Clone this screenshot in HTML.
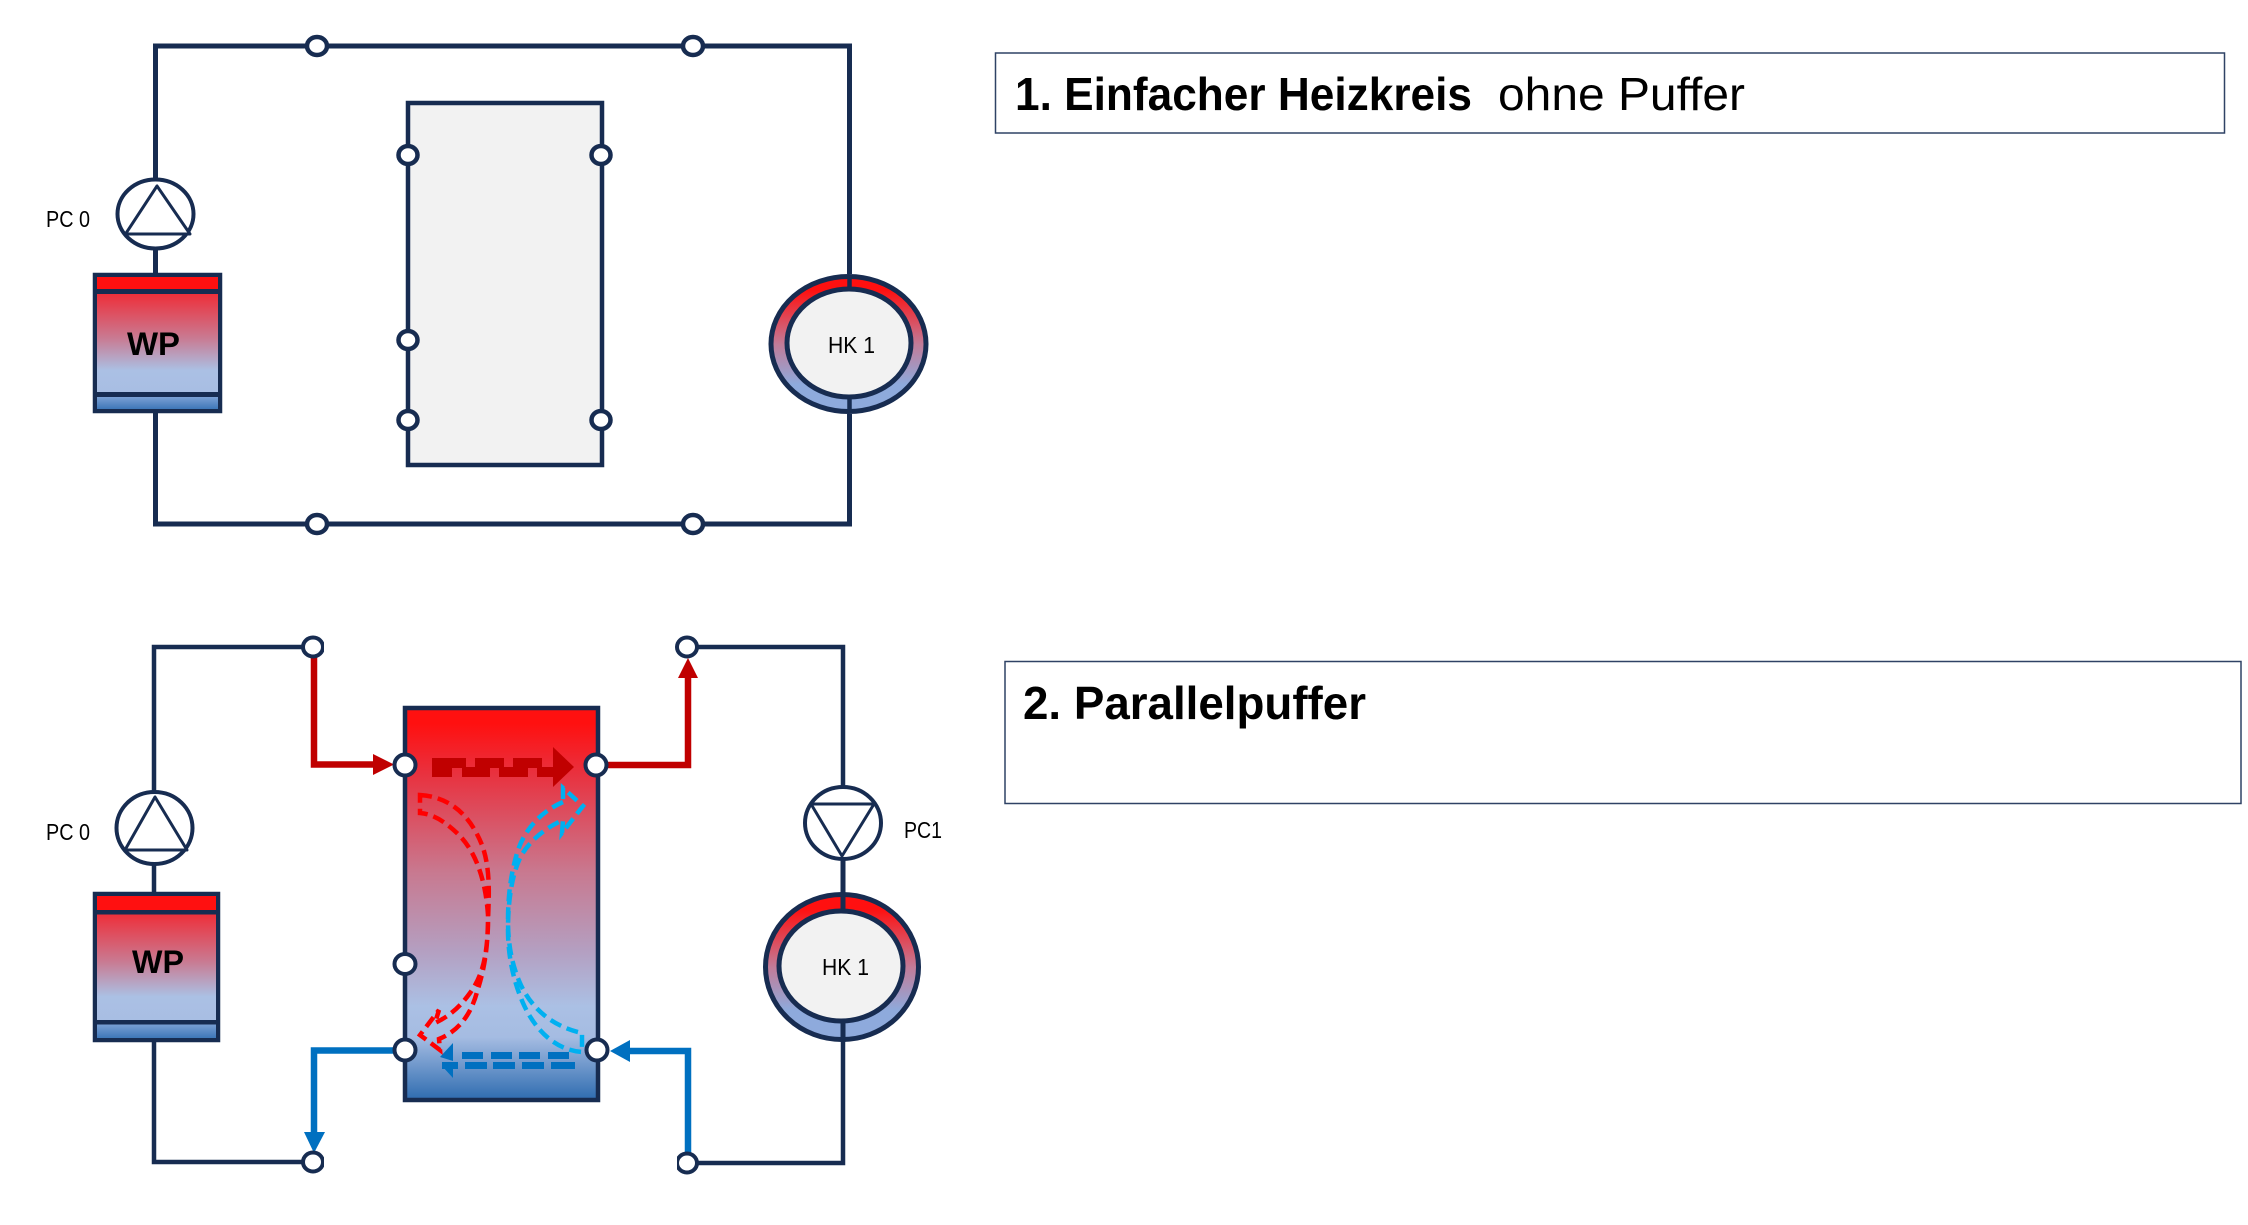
<!DOCTYPE html>
<html>
<head>
<meta charset="utf-8">
<style>
html,body{margin:0;padding:0;background:#fff;}
svg{display:block;}
text{font-family:"Liberation Sans",sans-serif;fill:#000;}
</style>
</head>
<body>
<svg width="2248" height="1225" viewBox="0 0 2248 1225" xmlns="http://www.w3.org/2000/svg">
<defs>
  <linearGradient id="mid" x1="0" y1="0" x2="0" y2="1">
    <stop offset="0" stop-color="#ee2f3a"/>
    <stop offset="0.45" stop-color="#c97a92"/>
    <stop offset="0.78" stop-color="#abc0e4"/>
    <stop offset="1" stop-color="#a8bee3"/>
  </linearGradient>
  <linearGradient id="low" x1="0" y1="0" x2="0" y2="1">
    <stop offset="0" stop-color="#7ba0d4"/>
    <stop offset="1" stop-color="#3e77b8"/>
  </linearGradient>
  <linearGradient id="ring" x1="0" y1="0" x2="0" y2="1">
    <stop offset="0.1" stop-color="#ff1010"/>
    <stop offset="0.5" stop-color="#c27b98"/>
    <stop offset="0.8" stop-color="#8eaadc"/>
    <stop offset="1" stop-color="#8eaadc"/>
  </linearGradient>
  <linearGradient id="tank" x1="0" y1="0" x2="0" y2="1">
    <stop offset="0.04" stop-color="#ff1010"/>
    <stop offset="0.16" stop-color="#ea2f3c"/>
    <stop offset="0.42" stop-color="#c87990"/>
    <stop offset="0.62" stop-color="#b49fc1"/>
    <stop offset="0.76" stop-color="#abc0e4"/>
    <stop offset="0.84" stop-color="#a5bce2"/>
    <stop offset="1" stop-color="#2e6cb0"/>
  </linearGradient>
</defs>

<!-- TOP DIAGRAM -->
<g fill="none" stroke="#172c51" stroke-width="5">
  <path d="M155.5 273V46H849.5V274"/>
  <path d="M155.5 413V524H849.5V414"/>
</g>
<rect x="408" y="103" width="194" height="362" fill="#f2f2f2" stroke="#172c51" stroke-width="4.5"/>
<g fill="#fff" stroke="#172c51" stroke-width="4.5">
  <ellipse cx="317" cy="46" rx="10" ry="9"/>
  <ellipse cx="693" cy="46" rx="10" ry="9"/>
  <ellipse cx="317" cy="524" rx="10" ry="9"/>
  <ellipse cx="693" cy="524" rx="10" ry="9"/>
  <ellipse cx="408" cy="155" rx="9.5" ry="9"/>
  <ellipse cx="601" cy="155" rx="9.5" ry="9"/>
  <ellipse cx="408" cy="340" rx="9.5" ry="9"/>
  <ellipse cx="408" cy="420" rx="9.5" ry="9"/>
  <ellipse cx="601" cy="420" rx="9.5" ry="9"/>
</g>
<!-- pump top -->
<ellipse cx="155.5" cy="214" rx="38" ry="34.5" fill="#fff" stroke="#172c51" stroke-width="4"/>
<path d="M157 186L125.5 234H190Z" fill="#fff" stroke="#172c51" stroke-width="3" stroke-linejoin="round"/>
<text x="46" y="227" font-size="23" textLength="44" lengthAdjust="spacingAndGlyphs">PC 0</text>
<!-- WP top -->
<rect x="95" y="275" width="125" height="136" fill="#fff" stroke="#172c51" stroke-width="4.5"/>
<rect x="97" y="277" width="121" height="13" fill="#ff1010"/>
<rect x="97" y="294" width="121" height="98" fill="url(#mid)"/>
<rect x="97" y="397" width="121" height="12" fill="url(#low)"/>
<rect x="97" y="289" width="121" height="5" fill="#172c51"/>
<rect x="97" y="392" width="121" height="5" fill="#172c51"/>
<text x="127" y="355" font-size="32" font-weight="700" textLength="53" lengthAdjust="spacingAndGlyphs">WP</text>
<!-- HK top -->
<ellipse cx="848.5" cy="344" rx="77.5" ry="67.5" fill="url(#ring)" stroke="#172c51" stroke-width="5"/>
<path d="M849.5 276V294M849.5 394V412" stroke="#172c51" stroke-width="4.5" fill="none"/>
<ellipse cx="849" cy="343" rx="62" ry="54" fill="#f2f2f2" stroke="#172c51" stroke-width="5"/>
<text x="828" y="353" font-size="23" textLength="47" lengthAdjust="spacingAndGlyphs">HK 1</text>

<!-- TEXT BOXES -->
<rect x="995.5" y="53" width="1229" height="80" fill="#fff" stroke="#2f4265" stroke-width="1.5"/>
<text x="1015" y="110" font-size="46" font-weight="700" textLength="457" lengthAdjust="spacingAndGlyphs">1. Einfacher Heizkreis</text>
<text x="1498" y="110" font-size="46" textLength="247" lengthAdjust="spacingAndGlyphs">ohne Puffer</text>
<rect x="1005" y="661.5" width="1236" height="142" fill="#fff" stroke="#2f4265" stroke-width="1.5"/>
<text x="1023" y="719" font-size="46" font-weight="700" textLength="343" lengthAdjust="spacingAndGlyphs">2. Parallelpuffer</text>

<!-- BOTTOM DIAGRAM pipes -->
<g fill="none" stroke="#172c51" stroke-width="4.5">
  <path d="M154 892V647H313"/>
  <path d="M154 1042V1162H313"/>
  <path d="M687 647H843V790"/>
  <path d="M687 1163H843V1040"/>
  <path d="M843 858V895" stroke-width="5"/>
</g>
<!-- tank -->
<rect x="405" y="708" width="193" height="392" fill="url(#tank)" stroke="#172c51" stroke-width="4.5"/>
<!-- colored pipes -->
<g fill="none" stroke-width="6.5">
  <path d="M314 652V764.5H375" stroke="#c00000"/>
  <path d="M596 765H688V676" stroke="#c00000"/>
  <path d="M402 1050.5H314V1134" stroke="#0070c0"/>
  <path d="M628 1051H688V1158" stroke="#0070c0"/>
</g>
<path d="M373 754L394 764.5L373 775Z" fill="#c00000"/>
<path d="M688 658L698 678H678Z" fill="#c00000"/>
<path d="M304 1132H325L314 1153Z" fill="#0070c0"/>
<path d="M630 1040V1062L610 1051Z" fill="#0070c0"/>
<!-- dark red dashed -->
<g fill="#c00000">
  <rect x="432" y="758" width="34" height="10"/>
  <rect x="475" y="758" width="29" height="10"/>
  <rect x="513" y="758" width="29" height="10"/>
  <rect x="432" y="767" width="20" height="10"/>
  <rect x="462" y="767" width="28" height="10"/>
  <rect x="499" y="767" width="29" height="10"/>
  <rect x="537" y="767" width="20" height="10"/>
  <path d="M553 747L574 767L553 787Z"/>
</g>
<!-- blue dashed -->
<g fill="#0070c0">
  <rect x="462" y="1052" width="21" height="7"/>
  <rect x="491" y="1052" width="21" height="7"/>
  <rect x="519" y="1052" width="21" height="7"/>
  <rect x="548" y="1052" width="21" height="7"/>
  <rect x="465" y="1062" width="22" height="7"/>
  <rect x="493" y="1062" width="22" height="7"/>
  <rect x="522" y="1062" width="22" height="7"/>
  <rect x="551" y="1062" width="24" height="7"/>
  <rect x="442" y="1062" width="16" height="7"/>
  <path d="M453 1043V1061L440 1057Z"/>
  <path d="M453 1062V1078L442 1066Z"/>
</g>
<!-- red curved -->
<path d="M420 795C450 797 470 815 482 845C492 872 488 905 488 925C487 955 483 975 470 993C462 1004 452 1015 435 1023L439 1010L420 1035L440 1050L439 1039C456 1032 470 1018 477 992C484 970 488 950 488 915C486 885 478 855 460 836C447 823 434 814 420 813Z" fill="none" stroke="#ff0000" stroke-width="4.5" stroke-dasharray="12 6"/>
<!-- blue curved -->
<path d="M563 802C540 812 525 830 518 850C511 872 508 895 508 920C508 945 512 965 520 983C530 1006 550 1026 582 1033L582 1052C555 1050 535 1030 523 1003C513 980 508 955 508 930C508 900 512 875 520 858C528 842 545 828 563 820L562 833L583 806L563 788Z" fill="none" stroke="#00b0f0" stroke-width="4.5" stroke-dasharray="12 6"/>
<!-- nodes -->
<g fill="#fff" stroke="#172c51" stroke-width="4">
  <ellipse cx="405" cy="765" rx="10.5" ry="10.5"/>
  <ellipse cx="596" cy="765" rx="10.5" ry="10.5"/>
  <ellipse cx="405" cy="964" rx="10.5" ry="10"/>
  <ellipse cx="405" cy="1050" rx="10.5" ry="10.5"/>
  <ellipse cx="597" cy="1050" rx="10.5" ry="10.5"/>
  <ellipse cx="313" cy="647" rx="10" ry="9.5"/>
  <ellipse cx="313" cy="1162" rx="10" ry="9.5"/>
  <ellipse cx="687" cy="647" rx="10" ry="9.5"/>
  <ellipse cx="687" cy="1163" rx="10" ry="9.5"/>
</g>
<rect x="324" y="634" width="5" height="26" fill="#fff"/>
<rect x="324" y="1149" width="5" height="26" fill="#fff"/>
<rect x="672" y="1150" width="5" height="26" fill="#fff"/>
<!-- pump left -->
<ellipse cx="154.5" cy="828" rx="38" ry="36" fill="#fff" stroke="#172c51" stroke-width="4"/>
<path d="M155 797L125 850H187Z" fill="#fff" stroke="#172c51" stroke-width="3" stroke-linejoin="round"/>
<text x="46" y="840" font-size="23" textLength="44" lengthAdjust="spacingAndGlyphs">PC 0</text>
<!-- WP bottom -->
<rect x="95" y="894" width="123" height="146" fill="#fff" stroke="#172c51" stroke-width="4.5"/>
<rect x="97" y="896" width="119" height="14" fill="#ff1010"/>
<rect x="97" y="914" width="119" height="106" fill="url(#mid)"/>
<rect x="97" y="1024" width="119" height="14" fill="url(#low)"/>
<rect x="97" y="910" width="119" height="4.5" fill="#172c51"/>
<rect x="97" y="1020" width="119" height="4.5" fill="#172c51"/>
<text x="132" y="973" font-size="32" font-weight="700" textLength="52" lengthAdjust="spacingAndGlyphs">WP</text>
<!-- pump right -->
<ellipse cx="843" cy="823" rx="38" ry="36" fill="#fff" stroke="#172c51" stroke-width="4"/>
<path d="M811 804H874L842 856Z" fill="#fff" stroke="#172c51" stroke-width="3" stroke-linejoin="round"/>
<text x="904" y="838" font-size="23" textLength="38" lengthAdjust="spacingAndGlyphs">PC1</text>
<!-- HK bottom -->
<ellipse cx="842" cy="967" rx="76.5" ry="72.5" fill="url(#ring)" stroke="#172c51" stroke-width="5"/>
<path d="M843 895V915M843 1022V1042" stroke="#172c51" stroke-width="5" fill="none"/>
<ellipse cx="841" cy="966" rx="62" ry="55" fill="#f2f2f2" stroke="#172c51" stroke-width="5"/>
<text x="822" y="975" font-size="23" textLength="47" lengthAdjust="spacingAndGlyphs">HK 1</text>
</svg>
</body>
</html>
